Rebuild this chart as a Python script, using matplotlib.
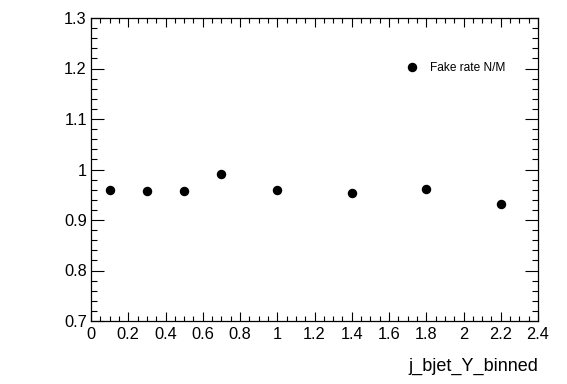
import matplotlib.pyplot as plt
from matplotlib.ticker import MultipleLocator, FuncFormatter

plt.rcParams['font.family'] = ['Liberation Sans', 'DejaVu Sans']

# Data
bin_centres = [0.1, 0.3, 0.5, 0.7, 1.0, 1.4, 1.8, 2.2]
fake_rate = [0.960, 0.958, 0.957, 0.991, 0.959, 0.954, 0.962, 0.932]

fig = plt.figure(figsize=(5.67, 3.84), dpi=100)
ax = fig.add_axes([91 / 567, 1 - 321 / 384, 447 / 567, 303 / 384])

ax.plot(bin_centres, fake_rate, 'o', color='black', markersize=5.8,
        label='Fake rate N/M')

ax.set_xlim(0, 2.4)
ax.set_ylim(0.7, 1.3)

ax.xaxis.set_major_locator(MultipleLocator(0.2))
ax.xaxis.set_minor_locator(MultipleLocator(0.05))
ax.yaxis.set_major_locator(MultipleLocator(0.1))
ax.yaxis.set_minor_locator(MultipleLocator(0.02))


def fmt(v, pos):
    s = '%.1f' % v
    if s.endswith('.0'):
        s = s[:-2]
    return s


ax.xaxis.set_major_formatter(FuncFormatter(fmt))
ax.yaxis.set_major_formatter(FuncFormatter(fmt))

ax.tick_params(axis='both', which='both', direction='in', top=True, right=True,
               labelsize=11.8, width=0.8)
ax.tick_params(axis='x', which='major', length=6.5, pad=4)
ax.tick_params(axis='x', which='minor', length=3.3)
ax.tick_params(axis='y', which='major', length=9.5, pad=3)
ax.tick_params(axis='y', which='minor', length=4.5)
for sp in ax.spines.values():
    sp.set_linewidth(0.9)

ax.set_xlabel('j_bjet_Y_binned', fontsize=13, loc='right', labelpad=12)

ax.legend(loc='upper left', bbox_to_anchor=(0.668, 0.89), frameon=False,
          fontsize=8.6, handletextpad=0.5, markerscale=1.0)

fig.savefig('out.png', dpi=100)
